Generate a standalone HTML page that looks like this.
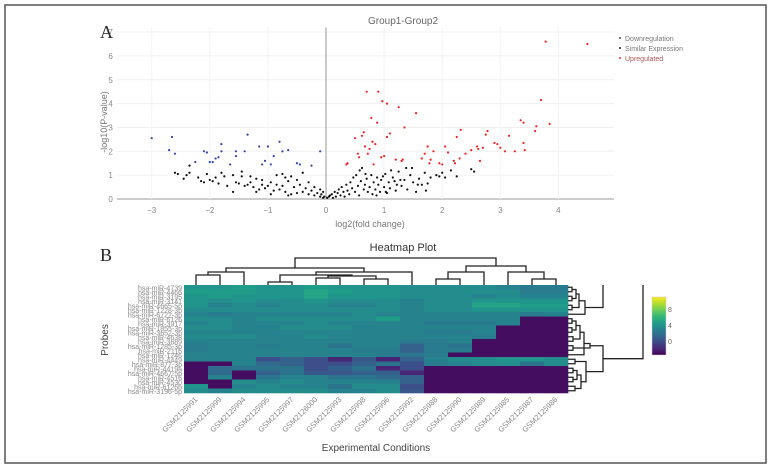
<!DOCTYPE html>
<html><head><meta charset="utf-8">
<style>
body{margin:0;background:#fff;}
svg{display:block;font-family:"Liberation Sans",sans-serif;}
</style></head>
<body>
<svg id="fig" width="772" height="468" viewBox="0 0 772 468">
<rect x="5" y="5" width="761" height="458" fill="none" stroke="#555" stroke-width="1.5"/>
<text x="100" y="38" font-family="Liberation Serif,serif" font-size="18" fill="#222">A</text>
<text x="100" y="261" font-family="Liberation Serif,serif" font-size="18" fill="#222">B</text>
<text x="403" y="24" font-size="10" fill="#666" text-anchor="middle">Group1-Group2</text>
<text x="370" y="227" font-size="9" fill="#777" text-anchor="middle">log2(fold change)</text>
<text transform="translate(107,122) rotate(-90)" font-size="9" fill="#777" text-anchor="middle">-log10(P-value)</text>
<g id="volcano"></g>
<g>
<circle cx="620" cy="38" r="1" fill="#555"/>
<text x="625" y="41" font-size="7" fill="#777">Downregulation</text>
<circle cx="620" cy="48" r="1" fill="#222"/>
<text x="625" y="51" font-size="7" fill="#777">Similar Expression</text>
<circle cx="620" cy="58" r="1" fill="#e33"/>
<text x="625" y="61" font-size="7" fill="#a55">Upregulated</text>
</g>
<text x="403" y="251" font-size="11" fill="#333" text-anchor="middle">Heatmap Plot</text>
<text x="376" y="451" font-size="10" fill="#444" text-anchor="middle">Experimental Conditions</text>
<text transform="translate(108,340) rotate(-90)" font-size="10" fill="#444" text-anchor="middle">Probes</text>
<g id="heat"></g>
<g id="cbar"></g>
</svg>
<script>
const downX=[-3,-2.7,-2.65,-2.6,-2.25,-2.1,-2.05,-2,-1.95,-1.9,-1.85,-1.8,-1.8,-1.65,-1.55,-1.55,-1.4,-1.35,-1.15,-1.1,-1.05,-1,-0.95,-0.9,-0.8,-0.75,-0.65,-0.5,-0.45,-0.25,-0.1];
const downY=[2.55,2.05,2.6,1.9,1.55,2.0,1.95,1.55,1.55,1.7,1.75,2.3,2.0,1.45,1.8,2.0,2.0,2.7,2.2,1.45,1.6,2.2,1.45,1.8,2.4,2.0,2.05,1.5,1.45,1.4,2.0];
const upX=[0.35,0.37,0.5,0.55,0.57,0.62,0.65,0.67,0.7,0.72,0.75,0.78,0.8,0.82,0.85,0.88,0.9,0.95,0.97,1.0,1.05,1.05,1.1,1.2,1.25,1.3,1.32,1.35,1.55,1.65,1.7,1.75,1.78,1.8,1.85,1.95,2.0,2.05,2.1,2.2,2.22,2.25,2.3,2.32,2.4,2.5,2.6,2.62,2.65,2.7,2.75,2.78,2.9,2.95,3.0,3.08,3.15,3.25,3.35,3.4,3.4,3.42,3.6,3.62,3.7,3.85,3.78,4.5];
const upY=[1.45,1.5,2.55,1.9,1.75,2.65,2.8,2.2,4.5,1.9,2.1,3.4,2.4,1.45,2.3,3.2,4.5,1.75,4.1,1.8,4.0,2.6,2.75,1.65,3.85,1.6,1.65,3.0,3.6,1.7,1.9,2.2,1.5,1.65,2.0,1.5,1.45,2.2,1.95,1.6,1.5,2.6,1.7,2.9,1.9,2.05,2.2,2.1,1.6,2.15,2.7,2.85,2.35,2.3,2.15,2.0,2.65,2.0,3.3,3.2,2.35,2.05,2.85,3.05,4.15,3.15,6.6,6.5];
const simX=[-2.6,-2.55,-2.45,-2.4,-2.35,-2.35,-2.2,-2.15,-2.1,-2.05,-2.0,-1.95,-1.9,-1.85,-1.8,-1.75,-1.6,-1.55,-1.5,-1.45,-1.45,-1.4,-1.35,-1.3,-1.25,-1.2,-1.15,-1.1,-1.1,-1.05,-1.0,-0.95,-0.9,-0.85,-0.85,-0.8,-0.75,-0.7,-0.7,-0.65,-0.6,-0.55,-0.5,-0.5,-0.45,-0.4,-0.4,-0.35,-0.3,-0.3,-0.25,-0.2,-0.2,-0.15,-0.1,-0.1,-0.08,-0.05,-0.05,-0.03,-1.6,-1.2,-0.95,-0.65,-1.7,-1.3,-0.75,-0.6,
0.02,0.05,0.07,0.1,0.12,0.15,0.17,0.2,0.22,0.25,0.27,0.3,0.32,0.35,0.37,0.4,0.42,0.45,0.47,0.5,0.52,0.55,0.57,0.6,0.62,0.65,0.67,0.7,0.72,0.75,0.78,0.8,0.82,0.85,0.88,0.9,0.93,0.95,1.0,1.02,1.05,1.08,1.1,1.15,1.2,1.22,1.25,1.3,1.35,1.38,1.4,1.45,1.5,1.55,1.6,1.65,1.7,1.72,1.75,1.8,1.9,1.95,2.0,2.05,2.15,2.25,2.5,2.55,1.48,1.12,0.98,0.58,0.68,1.18,1.28,1.58,0.87,1.03];
const simY=[1.1,1.05,0.85,1.0,1.1,1.4,0.9,0.75,0.7,1.05,0.8,0.75,0.9,0.65,1.1,0.95,1.0,0.7,0.65,1.15,0.95,0.55,0.6,0.7,0.5,0.85,0.4,0.6,0.8,0.45,0.55,0.7,0.35,0.6,1.0,0.4,0.55,0.9,0.3,0.75,0.95,0.5,0.25,0.8,0.6,1.1,0.3,0.45,0.2,0.7,0.35,0.15,0.5,0.25,0.1,0.4,0.2,0.05,0.3,0.1,0.3,0.3,0.2,0.15,0.55,0.95,1.05,0.2,
0.05,0.1,0.15,0.2,0.05,0.3,0.1,0.25,0.4,0.15,0.5,0.3,0.1,0.6,0.35,0.2,0.7,0.45,0.9,0.3,1.0,0.55,0.15,0.75,1.3,0.4,0.6,0.85,0.3,0.5,1.0,0.2,0.7,0.4,0.9,0.6,0.3,0.8,0.5,1.05,0.25,0.7,0.45,0.9,0.35,0.6,1.15,0.55,0.8,1.3,0.4,1.0,0.7,0.3,0.85,0.6,1.1,0.35,0.65,0.9,1.0,0.95,1.1,0.9,1.2,0.95,1.25,1.15,1.3,1.2,0.95,1.2,1.05,0.75,0.8,0.6,0.15,0.3];
const xTicks=[-3,-2,-1,0,1,2,3,4];
const yTicks=[0,1,2,3,4,5,6,7];

const NS="http://www.w3.org/2000/svg";
function mk(tag,attrs,parent){const e=document.createElementNS(NS,tag);for(const k in attrs)e.setAttribute(k,attrs[k]);parent.appendChild(e);return e;}
const vx=v=>326+v*58.1;
const vy=v=>199-v*23.85;
const vol=document.getElementById('volcano');
yTicks.forEach(t=>{
  const g=mk('line',{x1:vx(-3.6),x2:614,y1:vy(t),y2:vy(t),stroke:t===0?'#999':'#f0f0f0','stroke-width':1},vol);
  
  
  const l=mk('text',{x:vx(-3.6)-4,y:vy(t)+3,'font-size':8,fill:'#888','text-anchor':'end'},vol);
  l.textContent=t;
  
  
});
xTicks.forEach(t=>{
  const g=mk('line',{x1:vx(t),x2:vx(t),y1:vy(7.2),y2:vy(0),stroke:t===0?'#999':'#f3f3f3','stroke-width':1},vol);
  
  
  const l=mk('text',{x:vx(t),y:213,'font-size':8,fill:'#888','text-anchor':'middle'},vol);
  l.textContent=(t<0?'\u2212'+(-t):t);
  
  
});
function pts(xs,ys,col,name){xs.forEach((x,i)=>{const c=mk('circle',{cx:vx(x),cy:vy(ys[i]),r:1.1,fill:col},vol);
  
  });}
pts(simX,simY,'#111','point-similar');
pts(downX,downY,'#3344aa','point-down');
pts(upX,upY,'#ee2222','point-up');

const samples=['GSM2125991','GSM2125999','GSM2125994','GSM2125995','GSM2125997','GSM2126000','GSM2125993','GSM2125998','GSM2125996','GSM2125992','GSM2125988','GSM2125990','GSM2125989','GSM2125985','GSM2125987','GSM2125986'];
const probes=['hsa-miR-4739','hsa-miR-4466','hsa-miR-3195','hsa-miR-3141','hsa-miR-4665-5p','hsa-miR-1228-3p','hsa-miR-6722-3p','hsa-miR-6126','hsa-miR-3917','hsa-miR-1855-3p','hsa-miR-3652-3p','hsa-miR-4638','hsa-miR-3689','hsa-miR-1285-3p','hsa-miR-2116','hsa-miR-1246','hsa-miR-4449','hsa-miR-877-3p','hsa-miR-4419a','hsa-miR-4667-5p','hsa-miR-4516','hsa-miR-4530','hsa-miR-6126b','hsa-miR-3196-5p'];
const heatRows=[
[4,4,4.5,4,4,4.5,4,4,4,3.5,3.5,3.5,3.5,3,2.5,2.5],
[4.5,4.5,4.5,4,4,5,4.5,4,4,3.5,3.5,3.5,3.5,3.5,2.5,2.5],
[4,4.5,4,4,4,5,4,4,4,3.5,3.5,3.5,3,3.5,3,3],
[4,3.5,4,3.5,3.5,4,3.5,3.5,3.5,3,3.5,3.5,4,4,4,4],
[4,3,3.5,3,3.5,3.5,3,3,3.5,3,3.5,3.5,5,5,4.5,4.5],
[3.5,3.5,3.5,3.5,3.5,3.5,3.5,3.5,3.5,3,3.5,3.5,4,4,4,4],
[3,2.5,3,3,3,3,3,3.5,3,3,3,3,3,3,2.5,3],
[3.5,3.5,3,3.5,3.5,3.5,3.5,3.5,4.5,3,3,3,3,3,-3,-3],
[3,3.5,3,3,3,3.5,3,3,3,3,2.5,2.5,2.5,3,-3,-3],
[3.5,3.5,3,3,3.5,3.5,3.5,3,3,3,3,3,3,-3,-3,-3],
[3,3,3,3,3,3,3,3,3,3,2.5,2.5,3,-3,-3,-3],
[3.5,3.5,3.5,3,3,3.5,3,3,3,3,3,3,2.5,-3,-3,-3],
[3,3,3,3,3,3,3,3,3,2.5,2.5,3,-3,-3,-3,-3],
[2.5,3,3,2.5,3,3,2,3,3,1,2.5,2,-3,-3,-3,-3],
[2.5,3,3,3,3,3,3,2.5,2.5,1,2.5,2.5,-3,-3,-3,-3],
[3,3,3,3,3,3,3,3,2.5,2,2.5,-3,-3,-3,-3,-3],
[3,3,3,0,1,0,-2,0.5,-2,1,3,3.5,3.5,4,4,3.5],
[-3,-3,3,1.5,1,0,0,1,2,0,2.5,3,3.5,3.5,2,3.5],
[-3,1.5,2,2,2,0,1,2,-2,0,-3,-3,-3,-3,-3,-3],
[-3,1.5,-3,1,2,0.5,0.5,1,1,-2,-3,-3,-3,-3,-3,-3],
[-3,3,-3,2,3,3,2,2,1.5,1,-3,-3,-3,-3,-3,-3],
[-3,-3,3.5,3,3.5,3,3,3,3,1,-3,-3,-3,-3,-3,-3],
[4,-3,3,3.5,3,3,2,3.5,3.5,0,-3,-3,-3,-3,-3,-3],
[3.5,3,3.5,3.5,3.5,3.5,3,3,3.5,0.5,-3,-3,-3,-3,-3,-3]];
const cbTicks=[0,4,8];
const vmin=-3.5,vmax=11;
const vir=[[68,1,84],[72,40,120],[62,74,137],[49,104,142],[38,130,142],[31,158,137],[53,183,121],[109,205,89],[180,222,44],[253,231,37]];
function cmap(v){let t=Math.max(0,Math.min(1,(v-vmin)/(vmax-vmin)))*(vir.length-1);const i=Math.min(vir.length-2,Math.floor(t)),f=t-i;const a=vir[i],b=vir[i+1];return 'rgb('+a.map((c,k)=>Math.round(c+(b[k]-c)*f)).join(',')+')';}
const HX=184,HY=285,CW=24,RH=108/24;
const heat=document.getElementById('heat');
heatRows.forEach((row,r)=>row.forEach((v,c)=>{
  const e=mk('rect',{x:HX+c*CW,y:HY+r*RH,width:CW+0.3,height:RH+0.3,fill:cmap(v)},heat);
  
  
}));
probes.forEach((p,r)=>{
  const t=mk('text',{x:HX-2,y:HY+r*RH+RH+1,'font-size':7,fill:'#888','text-anchor':'end'},heat);
  t.textContent=p;
  
  
});
samples.forEach((s,c)=>{
  const cx=HX+c*CW+CW/2;
  const t=mk('text',{transform:'translate('+(cx+2)+',400) rotate(-45)','font-size':7.5,fill:'#888','text-anchor':'end'},heat);
  t.textContent=s;
  
  
});
const colTree=[[0,1,275],[2,'A',272],[3,4,282],[5,6,278],[7,8,279],['D','E',276],['C','F',275],['G',9,272],['B','H',268],[10,11,279],['J',12,272],[14,15,279],[13,'L',272],['K','M',266],['I','N',258]];
const names='ABCDEFGHIJKLMNO';
const nodes={};
function pos(k){return typeof k==='number'?{x:HX+k*CW+CW/2,y:HY}:nodes[k];}
colTree.forEach((n,i)=>{const a=pos(n[0]),b=pos(n[1]),h=n[2];
  const p=mk('path',{d:`M${a.x},${a.y}V${h}H${b.x}V${b.y}`,fill:'none',stroke:'#222','stroke-width':1.3},heat);
  
  
  nodes[names[i]]={x:(a.x+b.x)/2,y:h};});
const rowTree=[[0,1,572],[2,3,572],['a','b',576],[4,5,572],['c','d',579],[6,'e',585],[7,8,572],[9,10,572],['g','h',576],[11,12,573],['i','j',580],[13,14,573],['k',15,584],['l','m',590],[16,17,575],[18,19,573],[20,21,573],['p','q',577],[22,23,575],['r','s',581],['o','t',586],['n','u',603]];
const rnames='abcdefghijklmnopqrstuvwx';
const rn={};
function rpos(k){return typeof k==='number'?{x:HX+16*CW,y:HY+k*RH+RH/2}:rn[k];}
rowTree.forEach((n,i)=>{
  const a=rpos(n[0]),b=rpos(n[1]),h=n[2];
  const p=mk('path',{d:`M${a.x},${a.y}H${h}V${b.y}H${b.x}`,fill:'none',stroke:'#222','stroke-width':1.3},heat);
  
  
  rn[rnames[i]]={x:h,y:(a.y+b.y)/2};
});
{
  const f=rn['f'],v=rn['v'];
  const p1=mk('path',{d:`M${f.x},${f.y}H603V${HY}`,fill:'none',stroke:'#222','stroke-width':1.3},heat);
  
  
  const p2=mk('path',{d:`M${v.x},${v.y}H643V${HY}`,fill:'none',stroke:'#222','stroke-width':1.3},heat);
  
  
}
const cb=document.getElementById('cbar');
const CBX=652,CBY=297,CBH=58,CBW=14;
const defs=mk('defs',{},cb);
const lg=mk('linearGradient',{id:'vg',x1:0,y1:1,x2:0,y2:0},defs);
vir.forEach((c,i)=>mk('stop',{offset:i/(vir.length-1),'stop-color':'rgb('+c.join(',')+')'},lg));
const cr=mk('rect',{x:CBX,y:CBY,width:CBW,height:CBH,fill:'url(#vg)',stroke:'#ccc','stroke-width':0.5},cb);


const cby=v=>CBY+CBH-(v-vmin)/(vmax-vmin)*CBH;
cbTicks.forEach(t=>{
  const l=mk('text',{x:CBX+CBW+2,y:cby(t)+3,'font-size':7,fill:'#666'},cb);
  l.textContent=t;
  
  
});
</script>
</body></html>
